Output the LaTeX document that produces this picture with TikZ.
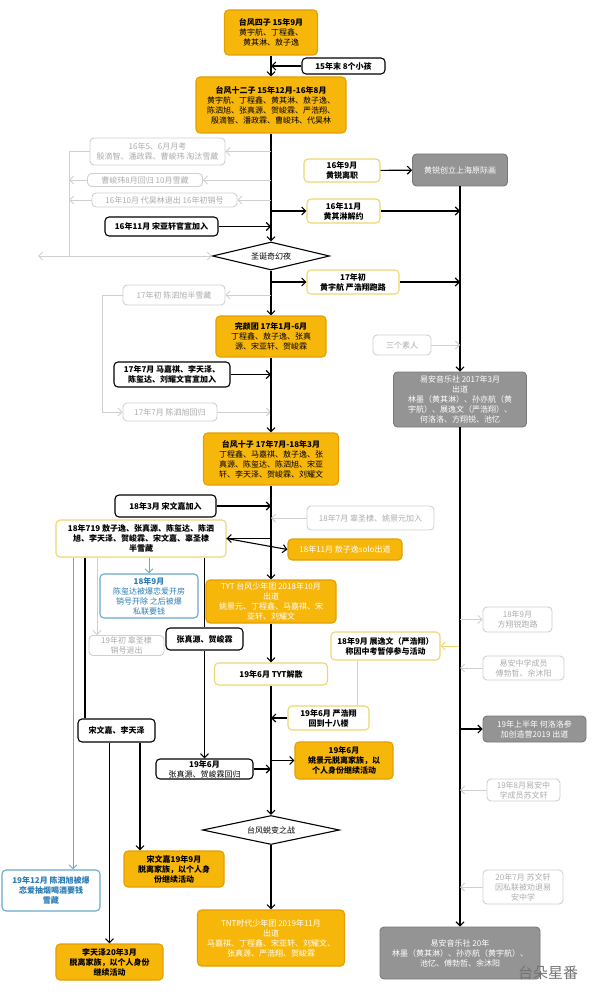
\documentclass[tikz,border=0pt]{standalone}
\usepackage{fontspec}
\setmainfont{Noto Sans CJK SC}
\usetikzlibrary{arrows.meta,shapes.geometric}
\definecolor{tforange}{RGB}{247,182,10}
\definecolor{tfedge}{RGB}{228,160,0}
\definecolor{tfyellow}{RGB}{238,214,112}
\definecolor{tfgray}{RGB}{148,148,148}
\definecolor{tfgrayedge}{RGB}{120,120,120}
\definecolor{tflight}{RGB}{208,208,208}
\definecolor{tflighttext}{RGB}{172,172,172}
\definecolor{tfblue}{RGB}{105,168,205}
\definecolor{tfbluetext}{RGB}{45,125,180}

\begin{document}
\begin{tikzpicture}[x=1pt,y=-1pt,
    every node/.style={font=\fontsize{8}{10}\selectfont, align=center, inner sep=1pt},
    box/.style={rectangle, rounded corners=4pt, line width=1.1pt},
    obox/.style={box, draw=tfedge, fill=tforange},
    owbox/.style={obox, text=white},
    obold/.style={obox, font=\fontsize{8}{10}\selectfont\bfseries},
    ybox/.style={box, draw=tfyellow, fill=white, font=\fontsize{8}{10}\selectfont\bfseries},
    kbox/.style={box, draw=black, fill=white},
    kbold/.style={kbox, font=\fontsize{8}{10}\selectfont\bfseries},
    gbox/.style={box, draw=tflight, fill=white, text=tflighttext, line width=0.9pt},
    dbox/.style={box, draw=tfgrayedge, fill=tfgray, text=white, line width=0.9pt},
    bbox/.style={box, draw=tfblue, fill=white, text=tfbluetext},
    night/.style={diamond, draw=black, fill=white, line width=1.1pt, aspect=4, inner sep=0pt},
    link/.style={line width=1.1pt},
    flow/.style={link, -{Straight Barb[length=4pt,width=8pt]}},
    garrow/.style={line width=0.9pt, draw=tflight, -{Straight Barb[length=4pt,width=8pt]}},
    gline/.style={line width=0.9pt, draw=tflight},
    yarrow/.style={line width=1pt, draw=tfyellow, -{Straight Barb[length=4pt,width=8pt]}},
    yline/.style={line width=1pt, draw=tfyellow},
    barrow/.style={line width=1pt, draw=tfblue, -{Straight Barb[length=4pt,width=8pt]}}]
\useasboundingbox (0,0) rectangle (598,1000);

% main column
\node[obox, minimum width=93, minimum height=45] (sifour) at (271,32.5) {\textbf{台风四子 15年9月}\\黄宇航、丁程鑫、\\黄其淋、敖子逸};
\node[kbold, minimum width=83, minimum height=16, inner sep=0pt] (kids) at (343.5,66) {15年末 8个小孩};
\node[obox, minimum width=150, minimum height=56] (twelve) at (271,105) {\textbf{台风十二子 15年12月-16年8月}\\黄宇航、丁程鑫、黄其淋、敖子逸、\\陈泗旭、张真源、贺峻霖、严浩翔、\\殷滴智、潘政霖、曹峻玮、代昊林};
\node[gbox, minimum width=135, minimum height=27] (g1) at (157.5,151.5) {16年5、6月月考\\殷滴智、潘政霖、曹峻玮 淘汰雪藏};
\node[gbox, minimum width=115, minimum height=13] (g2) at (145,180) {曹峻玮8月回归 10月雪藏};
\node[gbox, minimum width=145, minimum height=14] (g3) at (164.5,200) {16年10月 代昊林退出 16年初销号};
\node[kbold, minimum width=113, minimum height=19] (song16) at (161.5,226.5) {16年11月 宋亚轩官宣加入};
\node[night, minimum width=117, minimum height=28] (xmas) at (271,256) {圣诞奇幻夜};
\coordinate (gl) at (69,256);
\coordinate (gout) at (38,256);
\node[gbox, minimum width=102, minimum height=20] (g4) at (174,295) {17年初 陈泗旭半雪藏};
\node[obox, minimum width=110, minimum height=41] (wanyan) at (271,336.5) {\textbf{完颜团 17年1月-6月}\\丁程鑫、敖子逸、张真\\源、宋亚轩、贺峻霖};
\node[kbold, minimum width=116, minimum height=25] (join17) at (172,374.5) {17年7月 马嘉祺、李天泽、\\陈玺达、刘耀文官宣加入};
\node[gbox, minimum width=94, minimum height=18] (g5) at (170,412) {17年7月 陈泗旭回归};
\node[obox, minimum width=135, minimum height=52] (ten) at (271,459) {\textbf{台风十子 17年7月-18年3月}\\丁程鑫、马嘉祺、敖子逸、张\\真源、陈玺达、陈泗旭、宋亚\\轩、李天泽、贺峻霖、刘耀文};
\node[kbold, minimum width=101, minimum height=22] (wenjia) at (165.5,506) {18年3月 宋文嘉加入};
\node[gbox, minimum width=127, minimum height=24] (g6) at (370.5,518) {18年7月 辜圣棣、姚景元加入};
\node[ybox, minimum width=170, minimum height=37] (hide) at (141,538.5) {18年719 敖子逸、张真源、陈玺达、陈泗\\旭、李天泽、贺峻霖、宋文嘉、辜圣棣\\半雪藏};
\node[owbox, minimum width=114, minimum height=21] (solo) at (345,549.5) {18年11月 敖子逸solo出道};
\node[owbox, minimum width=130, minimum height=43] (tyt) at (271,601.5) {TYT 台风少年团 2018年10月\\出道\\姚景元、丁程鑫、马嘉祺、宋\\亚轩、刘耀文};
\node[bbox, minimum width=98, minimum height=44] (chenxi) at (149,596) {\textbf{18年9月}\\陈玺达被爆恋爱开房\\销号开除 之后被爆\\私联要钱};
\node[gbox, minimum width=75, minimum height=20] (g7) at (126.5,645.5) {19年初 辜圣棣\\销号退出};
\node[kbold, minimum width=77, minimum height=22] (zhanghe) at (204.5,639) {张真源、贺峻霖};
\node[ybox, minimum width=113, minimum height=22] (disband) at (271,674) {19年6月 TYT解散};
\node[ybox, minimum width=109, minimum height=28] (zhanyi) at (385.5,646) {18年9月 展逸文（严浩翔）\\称因中考暂停参与活动};
\node[ybox, minimum width=81, minimum height=24] (yan19) at (328.5,718) {19年6月 严浩翔\\回到十八楼};
\node[obold, minimum width=98, minimum height=37] (yao19) at (344,760.5) {19年6月\\姚景元脱离家族，以\\个人身份继续活动};
\node[kbox, minimum width=97, minimum height=20] (back19) at (204.5,769) {\textbf{19年6月}\\张真源、贺峻霖回归};
\node[kbold, minimum width=77, minimum height=23] (songli) at (116.5,730.5) {宋文嘉、李天泽};
\node[night, minimum width=137, minimum height=29] (tuibian) at (271,830) {台风蜕变之战};
\node[obold, minimum width=100, minimum height=36] (songjia) at (174,869) {宋文嘉19年9月\\脱离家族，以个人身\\份继续活动};
\node[bbox, font=\fontsize{8}{10}\selectfont\bfseries, minimum width=98, minimum height=41] (chensi) at (51,890.5) {19年12月 陈泗旭被爆\\恋爱抽烟喝酒要钱\\雪藏};
\node[owbox, minimum width=147, minimum height=56] (tnt) at (271,938) {TNT时代少年团 2019年11月\\出道\\马嘉祺、丁程鑫、宋亚轩、刘耀文、\\张真源、严浩翔、贺峻霖};
\node[obold, minimum width=107, minimum height=36] (litian) at (109.5,962) {李天泽20年3月\\脱离家族，以个人身份\\继续活动};

% right column
\node[ybox, minimum width=76, minimum height=23] (rui) at (342,170.5) {16年9月\\黄锐离职};
\node[dbox, minimum width=95, minimum height=32] (yuan) at (460,170) {黄锐创立上海原际画};
\node[ybox, minimum width=73, minimum height=24] (qilin) at (343.5,211) {16年11月\\黄其淋解约};
\node[ybox, minimum width=92, minimum height=24] (paolu) at (353,282) {17年初\\黄宇航 严浩翔跑路};
\node[gbox, minimum width=58, minimum height=20] (sanren) at (402,345) {三个素人};
\node[dbox, minimum width=133, minimum height=55] (yian17) at (460,399.5) {易安音乐社 2017年3月\\出道\\林墨（黄其淋）、孙亦航（黄\\宇航）、展逸文（严浩翔）、\\何洛洛、方翔锐、池忆};
\node[gbox, minimum width=69, minimum height=25] (fangxiang) at (517.5,619.5) {18年9月\\方翔锐跑路};
\node[gbox, minimum width=81, minimum height=24] (fuyu) at (523.5,668) {易安中学成员\\傅勃哲、余沐阳};
\node[dbox, minimum width=103, minimum height=26] (heluo) at (534.5,729) {19年上半年 何洛洛参\\加创造营2019 出道};
\node[gbox, minimum width=73, minimum height=22] (suwen) at (523.5,790) {19年8月易安中\\学成员苏文轩};
\node[gbox, minimum width=80, minimum height=34] (suwen20) at (523,887) {20年7月 苏文轩\\因私联被劝退易\\安中学};
\node[dbox, minimum width=160, minimum height=52] (yian20) at (460,953) {易安音乐社 20年\\林墨（黄其淋）、孙亦航（黄宇航）、\\池忆、傅勃哲、余沐阳};
\node[text=black!55, font=\fontsize{15}{15}\selectfont] (wmark) at (548,973) {台朵星番};

% 15-16
\draw[flow] (sifour) -- (twelve);
\draw[flow] (kids) -- (kids -| sifour.south);
\draw[flow] (twelve) -- (xmas);
\foreach \g in {g1,g2,g3}
    \draw[garrow] (\g.east -| twelve.south) -- (\g.east);
\draw[gline] (g1.west) -- (g1.west -| gl) -- (gl);
\foreach \g in {g2,g3}
    \draw[garrow] (\g.west) -- (\g.west -| gl);
\draw[garrow] (gl) -- (xmas.west);
\draw[garrow] (gl) -- (gout);
\draw[flow] (song16) -- (song16 -| twelve.south);
\draw[flow] (rui) -- (yuan);
\draw[flow] (twelve.south |- qilin.west) -- (qilin.west);
\draw[flow] (qilin.east) -- (qilin.east -| yuan.south);
\draw[flow] (yuan) -- (yian17);

% 17
\draw[flow] (xmas) -- (wanyan);
\draw[flow] (xmas.south |- paolu.west) -- (paolu.west);
\draw[flow] (paolu.east) -- (paolu.east -| yuan.south);
\draw[garrow] (xmas.south |- g4.east) -- (g4.east);
\draw[garrow] (g4.west) -- ([xshift=-20]g4.west) |- (g5.west);
\draw[garrow] (g5.east) -- (g5.east -| wanyan.south);
\draw[flow] (join17.east) -- (join17.east -| wanyan.south);
\draw[flow] (wanyan) -- (ten);
\draw[garrow] (sanren.east) -- (sanren.east -| yuan.south);

% 18
\draw[flow] (ten) -- (tyt);
\draw[flow] (wenjia.east) -- (wenjia.east -| ten.south);
\draw[garrow] (g6.west) -- (g6.west -| ten.south);
\draw[flow] (hide.east -| ten.south) -- (hide.east);
\draw[flow] (hide.east) -- (solo.west);
\draw[barrow] ([xshift=-68]hide.south) -- ([xshift=-68]hide.south |- chensi.north);
\draw[link] ([xshift=-56]hide.south) -- ([xshift=-56]hide.south |- songli.north);
\draw[garrow] ([xshift=-44]hide.south) -- ([xshift=-44]hide.south |- g7.north);
\draw[barrow] (hide.south -| chenxi.north) -- (chenxi.north);
\draw[link] (hide.south -| zhanghe.north) -- (zhanghe.north);

% 19-20
\draw[flow] (zhanghe) -- (back19);
\draw[flow] (back19.east) -- (back19.east -| tyt.south);
\draw[flow] (songli.south -| litian.north) -- (litian.north);
\draw[flow] ([xshift=23.5]songli.south) -- ([xshift=23.5]songli.south |- songjia.north);
\draw[flow] (tyt) -- (disband);
\draw[flow] (disband) -- (tuibian);
\draw[flow] (yan19.west) -- (yan19.west -| disband.south);
\draw[flow] (yao19.west -| disband.south) -- (yao19.west);
\draw[flow] (tuibian) -- (tnt);
\draw[yarrow] (zhanyi.east -| yian17.south) -- (zhanyi.east);
\draw[yline] ([xshift=28.5]yan19.north) -- ([xshift=28.5]yan19.north |- zhanyi.south);
\draw[flow] (yian17) -- (yian20);
\draw[garrow] (fangxiang.west -| yian17.south) -- (fangxiang.west);
\foreach \n in {fuyu,suwen,suwen20}
    \draw[garrow] (\n.west) -- (\n.west -| yian17.south);
\draw[flow] (heluo.west -| yian17.south) -- (heluo.west);
\end{tikzpicture}
\end{document}
